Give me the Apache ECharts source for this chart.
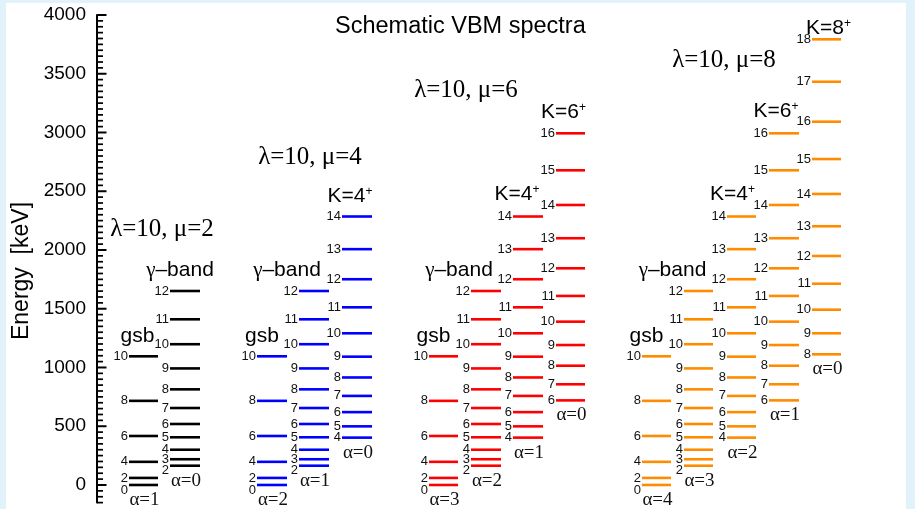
<!DOCTYPE html>
<html>
<head>
<meta charset="utf-8">
<script src="https://cdn.jsdelivr.net/npm/echarts@6/dist/echarts.min.js"></script>
<style>
html,body{margin:0;padding:0;background:#ffffff;}
#chart{width:915px;height:509px;}
</style>
</head>
<body>
<div id="chart"></div>
<script>
// ---- data ----
const gsbSpins = [0, 2, 4, 6, 8, 10];
const gsbEnergy = [0, 60, 197, 417, 716, 1095];
const gammaSpins = [2, 3, 4, 5, 6, 7, 8, 9, 10, 11, 12];
const gammaEnergy = [164, 219, 300, 406, 519, 655, 814, 992, 1198, 1410, 1651];
const k4Spins = [4, 5, 6, 7, 8, 9, 10, 11, 12, 13, 14];
const k4Energy = [403, 499, 620, 758, 915, 1092, 1291, 1512, 1751, 2007, 2285];
const k6Spins = [6, 7, 8, 9, 10, 11, 12, 13, 14, 15, 16];
const k6Energy = [720, 857, 1015, 1191, 1390, 1609, 1844, 2100, 2383, 2678, 2993];
const k8Spins = [8, 9, 10, 11, 12, 13, 14, 15, 16, 17, 18];
const k8Energy = [1112, 1291, 1492, 1713, 1949, 2202, 2477, 2774, 3092, 3432, 3793];

const panelTitles = ['λ=10, μ=2', 'λ=10, μ=4', 'λ=10, μ=6', 'λ=10, μ=8'];
const panelColors = ['#000000', '#0000ff', '#ff0000', '#ff8c00'];
const yTickValues = [0, 500, 1000, 1500, 2000, 2500, 3000, 3500, 4000];
const chartTitle = 'Schematic VBM spectra';
const yAxisName = 'Energy  [keV]';

const bands = {
  gsb:   {spins: gsbSpins,   energy: gsbEnergy,   name: 'gsb'},
  gamma: {spins: gammaSpins, energy: gammaEnergy, name: 'gamma'},
  k4:    {spins: k4Spins,    energy: k4Energy,    name: 'K=4'},
  k6:    {spins: k6Spins,    energy: k6Energy,    name: 'K=6'},
  k8:    {spins: k8Spins,    energy: k8Energy,    name: 'K=8'}
};

// ---- axis extent and minor tick step ----
const Y_MIN = -150, Y_MAX = 4000, MINOR_STEP = 50;
const X_MIN = 97, X_MAX = 906;

// ---- layout (pixel positions along the x axis, label offsets) ----
const panels = [
  {title: [162, 229], cols: [
    {band: 'gsb',   x: [129, 158], alpha: 1, lab: [-6, -20]},
    {band: 'gamma', x: [170, 200], alpha: 0, lab: [-5, -21]}]},
  {title: [310, 157], cols: [
    {band: 'gsb',   x: [257, 287], alpha: 2, lab: [-10, -20]},
    {band: 'gamma', x: [299, 329], alpha: 1, lab: [-27, -21]},
    {band: 'k4',    x: [342, 372], alpha: 0, lab: [-7, -20]}]},
  {title: [466, 90], cols: [
    {band: 'gsb',   x: [429, 458], alpha: 3, lab: [-10, -20]},
    {band: 'gamma', x: [471, 501], alpha: 2, lab: [-27, -21]},
    {band: 'k4',    x: [513, 543], alpha: 1, lab: [-11, -22]},
    {band: 'k6',    x: [556, 585], alpha: 0, lab: [-7, -21]}]},
  {title: [724, 60], cols: [
    {band: 'gsb',   x: [642, 671], alpha: 4, lab: [-10, -20]},
    {band: 'gamma', x: [684, 713], alpha: 3, lab: [-26, -21]},
    {band: 'k4',    x: [727, 756], alpha: 2, lab: [-9, -22]},
    {band: 'k6',    x: [769, 799], alpha: 1, lab: [-8, -22]},
    {band: 'k8',    x: [812, 841], alpha: 0, lab: [2, -11]}]}
];

const SANS = '"Liberation Sans", Arial, sans-serif';
const SERIF = '"Liberation Serif", "Times New Roman", serif';

function bandLabel(name) {
  if (name === 'gamma') return '{g|γ}{t|–band}';
  if (name === 'gsb') return '{t|gsb}';
  return '{t|' + name + '}{s|+}';
}

const series = [];

// axis ticks (minor and major), placed through the y scale
const minorTickValues = [];
for (let v = Y_MIN; v <= Y_MAX; v += MINOR_STEP) {
  if (yTickValues.indexOf(v) < 0) minorTickValues.push(v);
}
series.push({
  type: 'custom', coordinateSystem: 'cartesian2d', silent: true, clip: false, z: 10,
  data: minorTickValues.map(v => [X_MIN, v, 6]).concat(yTickValues.map(v => [X_MIN, v, 9.5])),
  renderItem: function (params, api) {
    const p = api.coord([api.value(0), api.value(1)]);
    const len = api.value(2);
    return {type: 'line', shape: {x1: p[0], y1: p[1], x2: p[0] + len, y2: p[1]},
      style: {stroke: '#000', lineWidth: len > 7 ? 2 : 1.7}};
  }
});

panels.forEach((panel, pi) => {
  const color = panelColors[pi];
  panel.cols.forEach(col => {
    const b = bands[col.band];
    const data = b.spins.map((j, i) => [j, b.energy[i]]);
    const last = data.length - 1;
    series.push({
      type: 'custom',
      coordinateSystem: 'cartesian2d',
      data: data,
      silent: true,
      clip: false,
      renderItem: function (params, api) {
        const J = api.value(0);
        const E = api.value(1);
        const p1 = api.coord([col.x[0], E]);
        const p2 = api.coord([col.x[1], E]);
        const idx = params.dataIndex;
        let dy = 0;
        if (idx === 0 && data.length > 1) {
          const pn = api.coord([col.x[0], data[1][1]]);
          if (p1[1] - pn[1] < 10) dy = 5;
        }
        const children = [
          {type: 'line', shape: {x1: p1[0], y1: p1[1], x2: p2[0], y2: p2[1]},
           style: {stroke: color, lineWidth: 2.6}},
          {type: 'text', style: {text: String(J), x: p1[0] - 1, y: p1[1] + dy,
            align: 'right', verticalAlign: 'middle', fontSize: 13, fontFamily: SANS, fill: '#111'}}
        ];
        const cx = (p1[0] + p2[0]) / 2;
        if (idx === 0) {
          children.push({type: 'text', style: {text: 'α=' + col.alpha, x: cx + 1, y: p1[1] + 15,
            align: 'center', verticalAlign: 'middle', fontSize: 19, fontFamily: SERIF, fill: '#111'}});
        }
        if (idx === last) {
          children.push({type: 'text', style: {text: bandLabel(b.name), x: cx + col.lab[0], y: p1[1] + col.lab[1],
            align: 'center', verticalAlign: 'middle',
            rich: {
              t: {fontSize: 21, fontFamily: SANS, fill: '#000'},
              g: {fontSize: 21, fontFamily: SERIF, fill: '#000'},
              s: {fontSize: 12, fontFamily: SANS, fill: '#000', verticalAlign: 'top', padding: [0, 0, 10, 0]}
            }}});
        }
        return {type: 'group', children: children};
      }
    });
  });
});

const FRAME = '#e1f2fb';
const graphics = [
  {type: 'rect', shape: {x: 0, y: 0, width: 915, height: 3}, style: {fill: FRAME}, silent: true},
  {type: 'rect', shape: {x: 0, y: 0, width: 6, height: 509}, style: {fill: FRAME}, silent: true},
  {type: 'rect', shape: {x: 906, y: 0, width: 9, height: 509}, style: {fill: FRAME}, silent: true},
  {type: 'text', x: 22, y: 271, rotation: Math.PI / 2,
   style: {text: yAxisName, fontSize: 23, fontFamily: SANS, fill: '#000', align: 'center', verticalAlign: 'middle'}}
];
panels.forEach((panel, pi) => {
  graphics.push({type: 'text', x: panel.title[0], y: panel.title[1],
    style: {text: panelTitles[pi], fontSize: 25, fontFamily: SERIF, fill: '#000', align: 'center', verticalAlign: 'middle'}});
});

const chart = echarts.init(document.getElementById('chart'), null, {renderer: 'canvas'});
chart.setOption({
  backgroundColor: '#ffffff',
  animation: false,
  title: {text: chartTitle, left: 335, top: 15, padding: 0,
    textStyle: {fontSize: 23.5, fontWeight: 'normal', fontFamily: SANS, color: '#000'}},
  grid: {left: X_MIN, right: 915 - X_MAX, top: 15, bottom: 6.4, containLabel: false},
  xAxis: {type: 'value', min: X_MIN, max: X_MAX, show: false},
  yAxis: {type: 'value', min: Y_MIN, max: Y_MAX, interval: MINOR_STEP, position: 'left',
     axisLine: {show: true, lineStyle: {color: '#000', width: 2}},
     axisTick: {show: false},
     axisLabel: {show: true, customValues: yTickValues, formatter: v => String(v),
       fontSize: 19, fontFamily: SANS, color: '#000', margin: 11},
     splitLine: {show: false}},
  graphic: graphics,
  series: series
});
</script>
</body>
</html>
